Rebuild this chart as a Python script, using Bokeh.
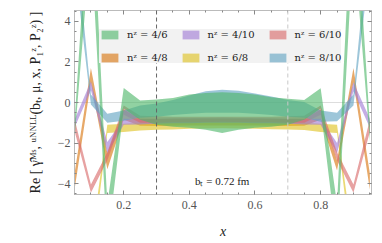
from bokeh.plotting import figure
from bokeh.models import (Range1d, FixedTicker, LinearAxis, Legend, LegendItem,
                          Span, Label, CustomLabelingPolicy)
from bokeh.embed import file_html
from bokeh.resources import INLINE

# ---------------- data ----------------
x = [0.05, 0.10, 0.15, 0.20, 0.25, 0.30, 0.35, 0.40, 0.45, 0.50,
     0.55, 0.60, 0.65, 0.70, 0.75, 0.80, 0.85, 0.90, 0.95]

labels = ["nᶻ = 4/6", "nᶻ = 4/8", "nᶻ = 4/10", "nᶻ = 6/8", "nᶻ = 6/10", "nᶻ = 8/10"]
colors = ["#4db769", "#d9750d", "#a07bd5", "#dfc11e", "#d96969", "#61a3c1"]

g_lo = [-1.8, 8.0, -7.0, -0.30, -0.85, -1.10, -1.20, -1.25, -1.35, -1.50,
        -1.35, -1.25, -1.20, -1.10, -0.85, -0.30, -7.0, 8.0, -1.9]
g_hi = [-1.0, 11.5, -5.0, 0.72, 0.10, 0.15, 0.22, 0.40, 0.47, 0.50,
        0.47, 0.40, 0.26, 0.18, 0.12, 0.70, -5.0, 11.5, -1.1]

o_lo = [-4.3, 1.00, -3.30, -0.85, -1.15, -1.16, -1.15, -1.14, -1.13, -1.13,
        -1.13, -1.14, -1.15, -1.16, -1.15, -0.85, -3.35, 1.00, -4.3]
o_hi = [-3.5, 1.70, -2.50, -0.35, -0.80, -0.82, -0.82, -0.81, -0.80, -0.80,
        -0.80, -0.81, -0.82, -0.82, -0.80, -0.35, -2.85, 1.70, -3.5]

p_lo = [-1.25, 0.60, -2.50, -1.10, -1.08, -1.05, -1.03, -1.02, -1.00, -1.00,
        -1.00, -1.02, -1.03, -1.05, -1.08, -1.10, -2.50, 0.55, -1.25]
p_hi = [-0.85, 1.05, -1.95, -0.80, -0.82, -0.80, -0.78, -0.77, -0.76, -0.75,
        -0.76, -0.77, -0.78, -0.80, -0.82, -0.80, -2.00, 1.00, -0.80]

y_lo = [-7.3, -8.0, -1.50, -1.45, -1.38, -1.35, -1.33, -1.30, -1.28, -1.27,
        -1.28, -1.30, -1.32, -1.33, -1.36, -1.45, -1.50, -8.0, -7.3]
y_hi = [-6.7, -7.0, -1.10, -1.05, -1.00, -0.98, -0.97, -0.96, -0.95, -0.95,
        -0.95, -0.96, -0.97, -0.98, -1.00, -1.05, -1.10, -7.0, -6.7]

r_lo = [-1.40, -4.45, -2.85, -0.60, -1.00, -1.00, -0.98, -0.97, -0.96, -0.95,
        -0.96, -0.97, -0.98, -1.00, -1.00, -0.60, -2.85, -4.45, -1.45]
r_hi = [-0.80, -4.05, -2.45, -0.15, -0.65, -0.68, -0.70, -0.70, -0.70, -0.70,
        -0.70, -0.70, -0.70, -0.68, -0.65, -0.15, -2.45, -4.05, -0.85]

b_lo = [6.8, -0.10, -1.00, -0.90, -0.75, -0.70, -0.62, -0.55, -0.50, -0.50,
        -0.50, -0.55, -0.62, -0.70, -0.75, -0.95, -0.92, -0.15, 6.8]
b_hi = [8.6, 0.40, -0.55, -0.40, -0.15, -0.05, 0.12, 0.35, 0.55, 0.63,
        0.58, 0.45, 0.30, 0.12, 0.02, -0.40, -0.50, 0.40, 8.6]

lows = [g_lo, o_lo, p_lo, y_lo, r_lo, b_lo]
highs = [g_hi, o_hi, p_hi, y_hi, r_hi, b_hi]
draw_order = [1, 3, 2, 4, 5, 0]

x_major = [0.2, 0.4, 0.6, 0.8]
y_major = [-4, -2, 0, 2, 4]
vlines = [0.3, 0.7]
note_text = "bₜ = 0.72 fm"
note_pos = (0.5, -3.85)

SERIF = "Liberation Serif"

# ---------------- figure ----------------
p = figure(frame_width=297, frame_height=184, x_range=Range1d(0.05, 0.955),
           y_range=Range1d(-4.54, 4.54), output_backend="svg",
           toolbar_location=None, min_border_left=74, min_border_right=11,
           min_border_top=10, min_border_bottom=49)
p.background_fill_color = "white"
p.border_fill_color = "white"
p.outline_line_color = "#bbbbbb"

x_minor = [round(0.05 * i, 2) for i in range(1, 20)]
y_minor = [-4.5 + 0.5 * i for i in range(19)]
xt = FixedTicker(ticks=x_major, minor_ticks=x_minor)
yt = FixedTicker(ticks=y_major, minor_ticks=y_minor)

xax = p.xaxis[0]
yax = p.yaxis[0]
xax.ticker = xt
yax.ticker = yt
p.xgrid.visible = False
p.ygrid.ticker = FixedTicker(ticks=[0])
p.ygrid.grid_line_color = "#dddddd"

hide_labels = CustomLabelingPolicy(
    code="for (const i of indices) { indices.unset(i) } return indices")

def style_axis(ax, show_labels=True):
    ax.axis_line_color = "#bbbbbb"
    ax.major_tick_line_color = "#888888"
    ax.minor_tick_line_color = "#888888"
    ax.major_tick_in = 4
    ax.major_tick_out = 0
    ax.minor_tick_in = 2
    ax.minor_tick_out = 0
    ax.major_label_text_font = SERIF
    ax.major_label_text_color = "#555555"
    if show_labels:
        ax.major_label_text_font_size = "12px"
    else:
        ax.major_label_text_font_size = "1px"
        ax.major_label_standoff = 0
        ax.major_label_policy = hide_labels

style_axis(xax)
style_axis(yax)
xax.major_label_standoff = 6
yax.major_label_standoff = 4

top = LinearAxis(ticker=xt)
right = LinearAxis(ticker=yt)
style_axis(top, False)
style_axis(right, False)
p.add_layout(top, "above")
p.add_layout(right, "right")

xax.axis_label = "x"
xax.axis_label_text_font = SERIF
xax.axis_label_text_font_style = "italic"
xax.axis_label_text_font_size = "14px"
xax.axis_label_text_color = "#222222"
xax.axis_label_standoff = 12

yax.axis_label = "Re [ γ̂ᴹˢ, ᵘᴺᴺᴸᴸ(bₜ, μ, x, P₁ᶻ, P₂ᶻ) ]"
yax.axis_label_text_font = SERIF
yax.axis_label_text_font_style = "normal"
yax.axis_label_text_font_size = "14px"
yax.axis_label_text_color = "#222222"
yax.axis_label_standoff = 12

renderers = {}
for i in draw_order:
    renderers[i] = p.varea(x=x, y1=lows[i], y2=highs[i], fill_color=colors[i],
                           fill_alpha=0.62)

for loc, col in zip(vlines, ["#666666", "#c8c8c8"]):
    p.add_layout(Span(location=loc, dimension="height", line_color=col,
                      line_dash="4 3", line_width=1))

p.add_layout(Label(x=note_pos[0], y=note_pos[1], text=note_text,
                   text_align="center", text_baseline="middle",
                   text_font=SERIF, text_font_size="11px",
                   text_color="#222222"))

items = [LegendItem(label=labels[i], renderers=[renderers[i]]) for i in range(6)]
legend = Legend(items=items, location=(25, 131), orientation="vertical",
                nrows=2, padding=6, spacing=12, glyph_width=21,
                glyph_height=11, label_height=11, label_standoff=7,
                label_text_font="DejaVu Serif", label_text_font_size="10px",
                label_text_color="#222222", background_fill_color="#f2f2f2",
                background_fill_alpha=1.0, border_line_color=None)
p.add_layout(legend, "center")

open("out.html", "w").write(file_html(p, INLINE))
